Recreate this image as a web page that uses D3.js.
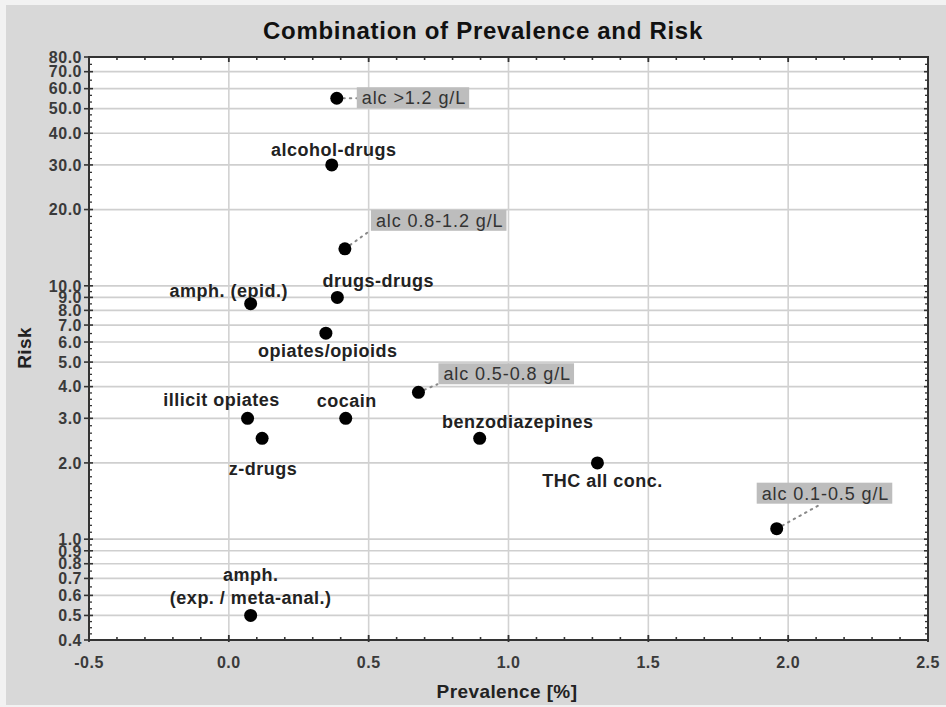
<!DOCTYPE html>
<html><head><meta charset="utf-8">
<script src="https://cdn.jsdelivr.net/npm/d3@7"></script>
<style>
html,body{margin:0;padding:0;background:#f2f2f2;}
svg{display:block;font-family:"Liberation Sans",Arial,sans-serif;}
</style></head>
<body>
<svg id="chart" width="946" height="707"></svg>
<script>
// ---- data ----
const labels = ["alc >1.2 g/L","alcohol-drugs","alc 0.8-1.2 g/L","drugs-drugs","amph. (epid.)","opiates/opioids","alc 0.5-0.8 g/L","illicit opiates","cocain","z-drugs","benzodiazepines","THC all conc.","alc 0.1-0.5 g/L","amph.|(exp. / meta-anal.)"];
const prevalence = [0.386,0.368,0.415,0.388,0.078,0.347,0.678,0.067,0.418,0.119,0.897,1.318,1.959,0.078];
const risk = [55,30,14,9,8.5,6.5,3.8,3.0,3.0,2.5,2.5,2.0,1.1,0.5];
const boxed = [true,false,true,false,false,false,true,false,false,false,false,false,true,false];
const yTicks = [0.4,0.5,0.6,0.7,0.8,0.9,1,2,3,4,5,6,7,8,9,10,20,30,40,50,60,70,80];
const xTicks = [-0.5,0,0.5,1,1.5,2,2.5];
const title = "Combination of Prevalence and Risk";
const xTitle = "Prevalence [%]";
const yTitle = "Risk";

// ---- layout (label offsets relative to the point, pixels) ----
const labelLayout = [
  {bx:20, by:-11, lx:20, ly:0},
  {dx:2, dy:-9},
  {bx:26, by:-39, lx:25, ly:-18},
  {dx:41, dy:-10},
  {dx:-22, dy:-7},
  {dx:2, dy:24},
  {bx:20, by:-29, lx:19, ly:-8},
  {dx:-26, dy:-12},
  {dx:1, dy:-11},
  {dx:1, dy:37},
  {dx:38, dy:-10},
  {dx:5, dy:24},
  {bx:-20, by:-46, lx:45, ly:-25},
  {dx:0, dy:-34, dy2:-11}
];

const svg = d3.select("#chart");
const W = 946, H = 707;
const m = {l:89, r:928, t:57, b:640};
const fmt = v => d3.format(".1f")(v).replace("\u2212","-");

svg.append("rect").attr("x",6).attr("y",5).attr("width",W-6).attr("height",700).attr("fill","#d8d8d8");
svg.append("rect").attr("x",m.l).attr("y",m.t).attr("width",m.r-m.l).attr("height",m.b-m.t).attr("fill","#fff");

const x = d3.scaleLinear().domain([-0.5,2.5]).range([m.l,m.r]);
const y = d3.scaleLog().domain([0.4,80]).range([m.b,m.t]);

// grid
svg.append("g").selectAll("line").data(yTicks.filter(v=>v>0.4&&v<80)).join("line")
  .attr("x1",m.l).attr("x2",m.r).attr("y1",d=>y(d)).attr("y2",d=>y(d))
  .attr("stroke","#cfcfcf").attr("stroke-width",1.7);
svg.append("g").selectAll("line").data(xTicks.filter(v=>v>-0.5&&v<2.5)).join("line")
  .attr("x1",d=>x(d)).attr("x2",d=>x(d)).attr("y1",m.t).attr("y2",m.b)
  .attr("stroke","#d2d2d2").attr("stroke-width",1.6);

// minor ticks
const yMinor = [];
for (let i=0;i<yTicks.length-1;i++){
  const a=yTicks[i], b=yTicks[i+1];
  const gap = y(a)-y(b);
  const n = Math.max(1, Math.round(gap/7));
  for (let k=1;k<n;k++) yMinor.push(a*Math.pow(b/a,k/n));
}
const xMinor = d3.range(-0.4,2.5,0.1).filter(v=>Math.abs(v*2-Math.round(v*2))>1e-6);
const tk = svg.append("g").attr("stroke","#333");
tk.selectAll(".ym").data(yMinor).join("line").attr("x1",m.l).attr("x2",m.l+3).attr("y1",d=>y(d)).attr("y2",d=>y(d)).attr("stroke-width",1.3);
tk.selectAll(".ymr").data(yMinor).join("line").attr("x1",m.r).attr("x2",m.r-3).attr("y1",d=>y(d)).attr("y2",d=>y(d)).attr("stroke-width",1.3);
tk.selectAll(".yM").data(yTicks).join("line").attr("x1",m.l-5).attr("x2",m.l+4).attr("y1",d=>y(d)).attr("y2",d=>y(d)).attr("stroke-width",1.6);
tk.selectAll(".yMr").data(yTicks).join("line").attr("x1",m.r).attr("x2",m.r-4).attr("y1",d=>y(d)).attr("y2",d=>y(d)).attr("stroke-width",1.6);
tk.selectAll(".xm").data(xMinor).join("line").attr("x1",d=>x(d)).attr("x2",d=>x(d)).attr("y1",m.b).attr("y2",m.b-3).attr("stroke-width",1.6);
tk.selectAll(".xmt").data(xMinor).join("line").attr("x1",d=>x(d)).attr("x2",d=>x(d)).attr("y1",m.t).attr("y2",m.t+3).attr("stroke-width",1.6);
tk.selectAll(".xM").data(xTicks).join("line").attr("x1",d=>x(d)).attr("x2",d=>x(d)).attr("y1",m.b+2).attr("y2",m.b-5).attr("stroke-width",1.8);
tk.selectAll(".xMt").data(xTicks).join("line").attr("x1",d=>x(d)).attr("x2",d=>x(d)).attr("y1",m.t).attr("y2",m.t+5).attr("stroke-width",1.8);

// frame
svg.append("rect").attr("x",m.l).attr("y",m.t).attr("width",m.r-m.l).attr("height",m.b-m.t)
  .attr("fill","none").attr("stroke","#333").attr("stroke-width",2);

// tick labels
svg.append("g").selectAll("text").data(yTicks).join("text")
  .attr("x",m.l-7).attr("y",d=>y(d)).attr("dy","0.36em").attr("text-anchor","end")
  .attr("font-size",16).attr("font-weight","bold").attr("fill","#3a3a3a").attr("letter-spacing",0.5)
  .text(fmt);
svg.append("g").selectAll("text").data(xTicks).join("text")
  .attr("x",d=>x(d)).attr("y",668).attr("text-anchor","middle")
  .attr("font-size",16).attr("font-weight","bold").attr("fill","#3a3a3a").attr("letter-spacing",0.5)
  .text(fmt);

// titles
svg.append("text").attr("x",483).attr("y",39).attr("text-anchor","middle")
  .attr("font-size",24).attr("font-weight","bold").attr("fill","#111").attr("letter-spacing",0.7).text(title);
svg.append("text").attr("x",507).attr("y",698).attr("text-anchor","middle")
  .attr("font-size",19).attr("font-weight","bold").attr("fill","#222").attr("letter-spacing",0.4).text(xTitle);
svg.append("text").attr("transform","translate(31,348) rotate(-90)").attr("text-anchor","middle")
  .attr("font-size",19).attr("font-weight","bold").attr("fill","#222").attr("letter-spacing",0.4).text(yTitle);

// points & labels
const pts = labels.map((l,i)=>({label:l, px:x(prevalence[i]), py:y(risk[i]), boxed:boxed[i], lay:labelLayout[i]}));
const lg = svg.append("g");
pts.forEach(p=>{
  const L = p.lay;
  if (p.boxed){
    lg.append("line").attr("x1",p.px).attr("y1",p.py).attr("x2",p.px+L.lx).attr("y2",p.py+L.ly)
      .attr("stroke","#888").attr("stroke-width",2).attr("stroke-dasharray","1.5,5").attr("stroke-linecap","round");
    const g = lg.append("g");
    const r = g.append("rect").attr("fill","#bdbdbd");
    const t = g.append("text").attr("x",p.px+L.bx+5).attr("y",p.py+L.by+17)
      .attr("font-size",18).attr("fill","#333").attr("letter-spacing",0.9).text(p.label);
    const bb = t.node().getBBox();
    r.attr("x",p.px+L.bx).attr("y",p.py+L.by).attr("width",bb.width+8).attr("height",21);
  } else {
    const parts = p.label.split("|");
    lg.append("text").attr("x",p.px+L.dx).attr("y",p.py+L.dy).attr("text-anchor","middle")
      .attr("font-size",18).attr("font-weight","bold").attr("fill","#222").attr("letter-spacing",0.5).text(parts[0]);
    if (parts[1]) lg.append("text").attr("x",p.px+L.dx).attr("y",p.py+L.dy2).attr("text-anchor","middle")
      .attr("font-size",18).attr("font-weight","bold").attr("fill","#222").attr("letter-spacing",0.5).text(parts[1]);
  }
});
svg.append("g").selectAll("circle").data(pts).join("circle")
  .attr("cx",d=>d.px).attr("cy",d=>d.py).attr("r",6.5).attr("fill","#000");
</script>
</body></html>
